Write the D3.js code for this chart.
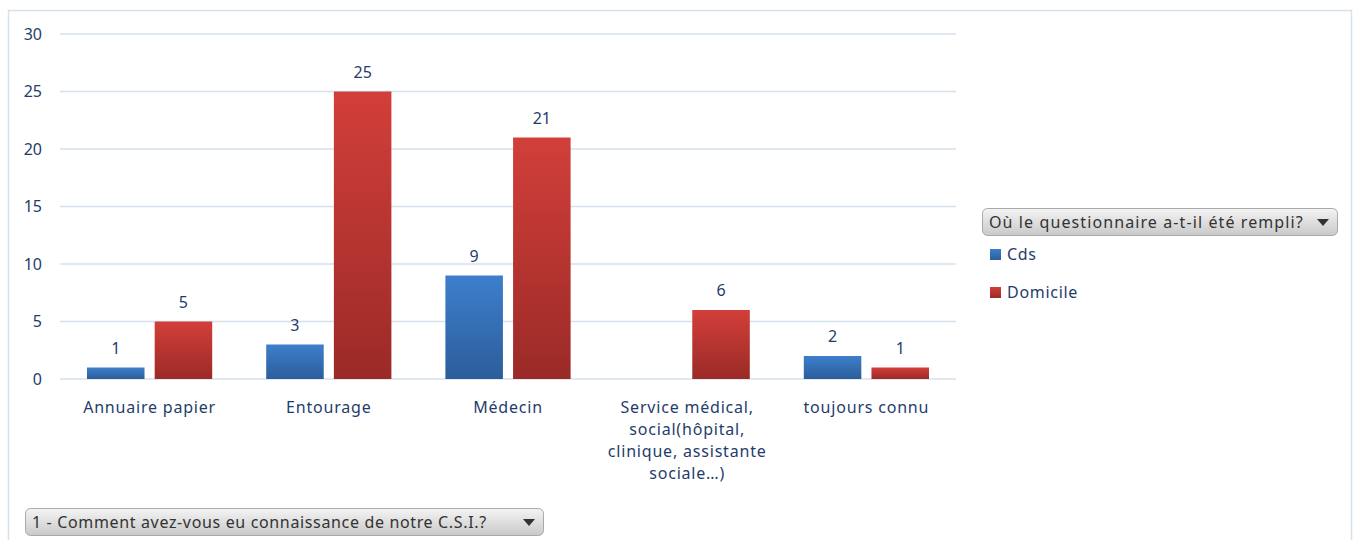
<!DOCTYPE html>
<html>
<head>
  <meta charset="utf-8">
  <script src="https://d3js.org/d3.v7.min.js"></script>
  <style>
    body { margin: 0; background: #fff; }
    text { font-family: "Noto Sans", "Open Sans", sans-serif; }
  </style>
</head>
<body>
  <svg width="1359" height="540"></svg>
  <script>
    // Data
    const categories = ["Annuaire papier", "Entourage", "Médecin",
      "Service médical, social(hôpital, clinique, assistante sociale…)", "toujours connu"];
    const categoryLines = [
      ["Annuaire papier"],
      ["Entourage"],
      ["Médecin"],
      ["Service médical,", "social(hôpital,", "clinique, assistante", "sociale…)"],
      ["toujours connu"]
    ];
    const seriesNames = ["Cds", "Domicile"];
    const cdsValues = [1, 3, 9, null, 2];
    const domicileValues = [5, 25, 21, 6, 1];
    const yTicks = [0, 5, 10, 15, 20, 25, 30];

    const svg = d3.select("svg");
    const textColor = "#1f3d6b";

    // gradients
    const defs = svg.append("defs");
    const grads = [
      { id: "gBlue", top: "#3d7fcc", bottom: "#2c5d9a" },
      { id: "gRed", top: "#d23f3a", bottom: "#9b2a27" },
      { id: "gBtn", top: "#f4f4f4", bottom: "#c9c9c9" }
    ];
    grads.forEach(g => {
      const lg = defs.append("linearGradient").attr("id", g.id)
        .attr("x1", 0).attr("y1", 0).attr("x2", 0).attr("y2", 1);
      lg.append("stop").attr("offset", "0%").attr("stop-color", g.top);
      lg.append("stop").attr("offset", "100%").attr("stop-color", g.bottom);
    });

    // outer chart border
    svg.append("rect")
      .attr("x", 8.5).attr("y", 10.5).attr("width", 1343).attr("height", 540)
      .attr("fill", "none").attr("stroke", "#d6e1ee").attr("stroke-width", 1.5);

    const plot = { left: 60, right: 956, top: 34, bottom: 379 };

    const x = d3.scaleBand()
      .domain(categories)
      .range([plot.left, plot.right])
      .paddingInner(0)
      .paddingOuter(0);

    const xs = d3.scaleBand()
      .domain(seriesNames)
      .range([27, x.bandwidth() - 27])
      .paddingInner(0.15);

    const y = d3.scaleLinear()
      .domain([0, 30])
      .range([plot.bottom, plot.top]);

    // gridlines
    svg.append("g").selectAll("line")
      .data(yTicks)
      .join("line")
      .attr("x1", plot.left).attr("x2", plot.right)
      .attr("y1", d => y(d)).attr("y2", d => y(d))
      .attr("stroke", "#d6e1ee").attr("stroke-width", 1.3);

    // y axis labels
    const yAxis = svg.append("g")
      .attr("transform", `translate(${plot.left - 18},0)`)
      .call(d3.axisLeft(y).tickValues(yTicks).tickSize(0).tickPadding(0));
    yAxis.select(".domain").remove();
    yAxis.selectAll("text")
      .attr("fill", textColor).attr("font-size", 16)
      .style("font-family", "'Noto Sans', sans-serif");

    // bars
    const rows = categories.map((c, i) => ({
      cat: c,
      vals: [
        { s: "Cds", v: cdsValues[i] },
        { s: "Domicile", v: domicileValues[i] }
      ]
    }));

    const groups = svg.append("g").selectAll("g")
      .data(rows)
      .join("g")
      .attr("transform", d => `translate(${x(d.cat)},0)`);

    groups.selectAll("rect")
      .data(d => d.vals.filter(v => v.v != null))
      .join("rect")
      .attr("x", d => xs(d.s))
      .attr("width", xs.bandwidth())
      .attr("y", d => y(d.v))
      .attr("height", d => y(0) - y(d.v))
      .attr("fill", d => d.s === "Cds" ? "url(#gBlue)" : "url(#gRed)");

    groups.selectAll("text.val")
      .data(d => d.vals.filter(v => v.v != null))
      .join("text")
      .attr("class", "val")
      .attr("x", d => xs(d.s) + xs.bandwidth() / 2)
      .attr("y", d => y(d.v) - 14)
      .attr("text-anchor", "middle")
      .attr("fill", textColor)
      .attr("font-size", 16)
      .text(d => d.v);

    // category labels
    const catLabels = svg.append("g").selectAll("text")
      .data(categories)
      .join("text")
      .attr("x", d => x(d) + x.bandwidth() / 2)
      .attr("y", 413)
      .attr("text-anchor", "middle")
      .attr("fill", textColor)
      .attr("font-size", 16)
      .attr("letter-spacing", 0.8);
    catLabels.selectAll("tspan")
      .data((d, i) => categoryLines[i])
      .join("tspan")
      .attr("x", function () { return d3.select(this.parentNode).attr("x"); })
      .attr("dy", (d, i) => i === 0 ? 0 : 22)
      .text(d => d);

    // filter buttons
    function button(x0, y0, w, label, spacing) {
      const g = svg.append("g").attr("transform", `translate(${x0},${y0})`);
      g.append("rect")
        .attr("x", 0.5).attr("y", 0.5).attr("width", w).attr("height", 27)
        .attr("rx", 5).attr("fill", "url(#gBtn)")
        .attr("stroke", "#a9a9a9");
      g.append("text")
        .attr("x", 7).attr("y", 19.5)
        .attr("fill", "#333")
        .attr("font-size", 16)
        .attr("letter-spacing", spacing)
        .text(label);
      g.append("path")
        .attr("d", `M${w - 20},11 L${w - 8},11 L${w - 14},18 Z`)
        .attr("fill", "#333");
    }
    button(982, 208, 355, "Où le questionnaire a-t-il été rempli?", 1.1);
    button(25, 508, 518, "1 - Comment avez-vous eu connaissance de notre C.S.I.?", 0.65);

    // legend
    const legend = svg.append("g").selectAll("g")
      .data(seriesNames)
      .join("g")
      .attr("transform", (d, i) => `translate(990,${249 + i * 38})`);
    legend.append("rect")
      .attr("width", 11).attr("height", 11)
      .attr("fill", (d, i) => i === 0 ? "url(#gBlue)" : "url(#gRed)");
    legend.append("text")
      .attr("x", 17).attr("y", 11)
      .attr("fill", textColor)
      .attr("font-size", 16)
      .attr("letter-spacing", 0.7)
      .text(d => d);
  </script>
</body>
</html>
